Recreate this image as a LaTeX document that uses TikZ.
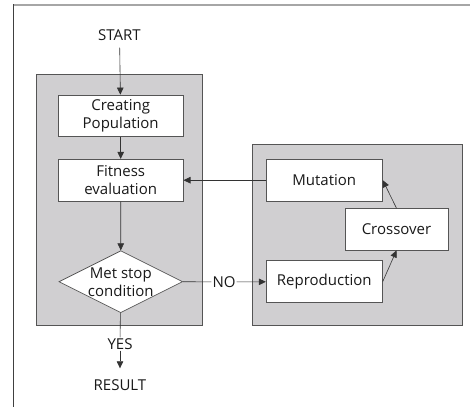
\documentclass[tikz,border=0pt]{standalone}
\usepackage{fontspec}
\setmainfont{Open Sans}
\usetikzlibrary{shapes.geometric,arrows.meta}

\definecolor{panelfill}{HTML}{D0CFD1}
\definecolor{edge}{HTML}{555555}
\definecolor{frametop}{HTML}{A6A6A6}
\definecolor{frameleft}{HTML}{404040}

\tikzset{
  txt/.style={font=\fontsize{15}{18.5}\selectfont, text=black!90},
  panel/.style={draw=edge, fill=panelfill, line width=0.9pt},
  stepbox/.style={draw=edge, fill=white, line width=0.9pt, align=center,
    inner sep=0pt, txt},
  decision/.style={diamond, draw=edge, fill=white, line width=0.7pt,
    inner sep=0pt, minimum width=123.7pt, minimum height=62pt},
  link/.style={draw=black!80, line width=0.6pt},
  arr/.style={link, -{Triangle[length=7pt,width=6.5pt]}}
}

\begin{document}
\begin{tikzpicture}[x=1pt,y=-1pt]
  \useasboundingbox (0,0) rectangle (470,407);
  \fill[white] (0,0) rectangle (470,407);

  % outer frame (only top and left edges fall inside the page)
  \draw[frametop, line width=1.6pt] (13,4.8) -- (470,4.8);
  \draw[frameleft, line width=1pt] (13.3,4.2) -- (13.3,407);

  % grey panels
  \path[panel] (36.4,74.7) rectangle (202.4,325.3);
  \path[panel] (252.3,144.3) rectangle (462,325.3);

  % left column
  \node[txt, inner sep=0pt] (start) at (119.5,35) {START};
  \node[stepbox, minimum width=124.7pt, minimum height=41.3pt]
    (create) at (120.7,115.7) {Creating\\Population};
  \node[stepbox, minimum width=124.7pt, minimum height=41.7pt]
    (fitness) at (120.7,180.2) {Fitness\\evaluation};
  \node[decision] (stop) at (120.8,281.7) {};
  \node[txt, align=center, inner sep=0pt] (stoptext) at (120.8,282)
    {Met stop\\condition};
  \node[txt, inner sep=1pt] (yes) at (120,344) {YES};
  \node[txt, inner sep=0pt] (result) at (120,385) {RESULT};

  % right panel
  \node[stepbox, minimum width=116pt, minimum height=41.7pt]
    (mutation) at (324.3,180.2) {Mutation};
  \node[stepbox, minimum width=103pt, minimum height=41.3pt]
    (crossover) at (396.5,229.3) {Crossover};
  \node[stepbox, minimum width=116pt, minimum height=41.7pt]
    (reproduction) at (324.3,281.5) {Reproduction};
  \node[txt, inner sep=1pt] (no) at (224,282) {NO};

  % connectors
  \draw[arr, shorten <=7pt] (start) -- (create);
  \draw[arr] (create) -- (fitness);
  \draw[arr] (fitness) -- (stop);
  \draw[link] (stop) -- (yes);
  \draw[arr, shorten >=11pt] (yes) -- (result);
  \draw[link] (stop.east) -- (no);
  \draw[arr] (no) -- (reproduction);
  \draw[arr] (reproduction.east) -- (crossover.south);
  \draw[arr] (crossover.north) -- (mutation.east);
  \draw[arr] (mutation.west) -- (fitness.east);
\end{tikzpicture}
\end{document}
